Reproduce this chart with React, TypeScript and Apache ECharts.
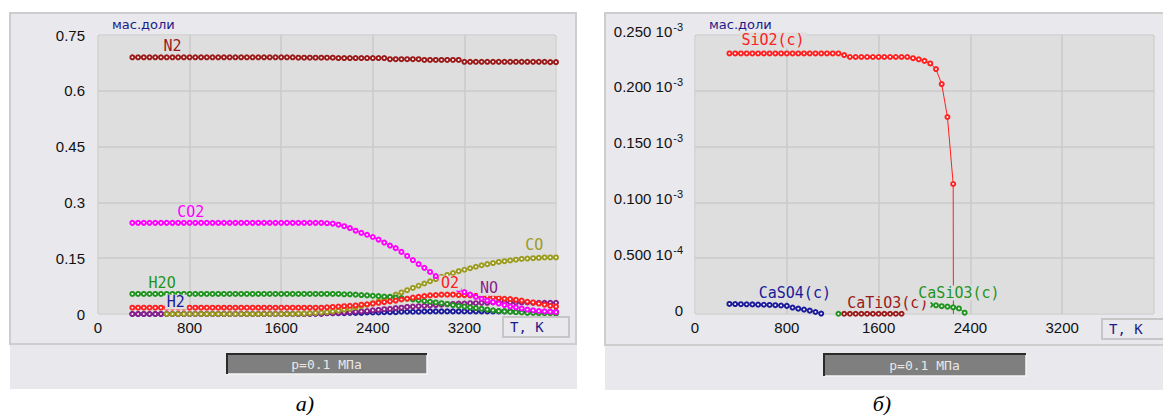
import React, { useEffect, useRef } from 'react';
import * as echarts from 'echarts';

// ---------- data: left chart (a), mass fractions vs T ----------
const temps = [
  300, 350, 400, 450, 500, 550, 600, 650, 700, 750,
  800, 850, 900, 950, 1000, 1050, 1100, 1150, 1200, 1250,
  1300, 1350, 1400, 1450, 1500, 1550, 1600, 1650, 1700, 1750,
  1800, 1850, 1900, 1950, 2000, 2050, 2100, 2150, 2200, 2250,
  2300, 2350, 2400, 2450, 2500, 2550, 2600, 2650, 2700, 2750,
  2800, 2850, 2900, 2950, 3000, 3050, 3100, 3150, 3200, 3250,
  3300, 3350, 3400, 3450, 3500, 3550, 3600, 3650, 3700, 3750,
  3800, 3850, 3900, 3950, 4000,
];

const n2 = [
  0.690, 0.690, 0.690, 0.690, 0.690, 0.690, 0.690, 0.690, 0.690, 0.690,
  0.690, 0.690, 0.690, 0.690, 0.690, 0.690, 0.690, 0.690, 0.690, 0.690,
  0.690, 0.690, 0.690, 0.690, 0.690, 0.690, 0.690, 0.690, 0.690, 0.689,
  0.689, 0.689, 0.689, 0.689, 0.689, 0.689, 0.688, 0.688, 0.688, 0.688,
  0.688, 0.688, 0.688, 0.688, 0.688, 0.685, 0.685, 0.685, 0.685, 0.685,
  0.685, 0.683, 0.683, 0.683, 0.683, 0.683, 0.683, 0.683, 0.678, 0.678,
  0.678, 0.678, 0.678, 0.678, 0.678, 0.678, 0.678, 0.678, 0.678, 0.678,
  0.678, 0.678, 0.678, 0.677, 0.677,
];

const co2 = [
  0.245, 0.245, 0.245, 0.245, 0.245, 0.245, 0.245, 0.245, 0.245, 0.245,
  0.245, 0.245, 0.245, 0.245, 0.245, 0.245, 0.245, 0.245, 0.245, 0.245,
  0.245, 0.245, 0.245, 0.245, 0.245, 0.245, 0.245, 0.245, 0.245, 0.245,
  0.245, 0.245, 0.245, 0.245, 0.244, 0.243, 0.240, 0.236, 0.231, 0.224,
  0.218, 0.213, 0.207, 0.200, 0.192, 0.184, 0.177, 0.167, 0.156, 0.145,
  0.134, 0.124, 0.113, 0.102, 0.093, 0.083, 0.075, 0.066, 0.059, 0.052,
  0.046, 0.041, 0.036, 0.032, 0.028, 0.024, 0.020, 0.018, 0.015, 0.012,
  0.010, 0.008, 0.007, 0.006, 0.005,
];

const h2o = [
  0.054, 0.054, 0.054, 0.054, 0.054, 0.054, 0.054, 0.054, 0.054, 0.054,
  0.054, 0.054, 0.054, 0.054, 0.054, 0.054, 0.054, 0.054, 0.054, 0.054,
  0.054, 0.054, 0.054, 0.054, 0.054, 0.054, 0.054, 0.054, 0.054, 0.054,
  0.054, 0.054, 0.054, 0.054, 0.054, 0.054, 0.054, 0.053, 0.053, 0.052,
  0.051, 0.050, 0.049, 0.048, 0.047, 0.046, 0.044, 0.043, 0.041, 0.039,
  0.037, 0.035, 0.033, 0.031, 0.029, 0.027, 0.024, 0.022, 0.020, 0.018,
  0.016, 0.014, 0.012, 0.010, 0.008, 0.007, 0.006, 0.005, 0.004, 0.003,
  0.003, 0.002, 0.002, 0.002, 0.001,
];

const h2 = [
  0.000, 0.000, 0.000, 0.000, 0.000, 0.000, 0.000, 0.000, 0.000, 0.000,
  0.000, 0.000, 0.000, 0.000, 0.000, 0.000, 0.000, 0.000, 0.000, 0.000,
  0.000, 0.000, 0.000, 0.000, 0.000, 0.000, 0.000, 0.000, 0.000, 0.000,
  0.000, 0.001, 0.001, 0.001, 0.002, 0.002, 0.002, 0.002, 0.003, 0.003,
  0.003, 0.004, 0.004, 0.004, 0.005, 0.005, 0.005, 0.006, 0.006, 0.006,
  0.006, 0.007, 0.007, 0.007, 0.007, 0.007, 0.007, 0.007, 0.007, 0.007,
  0.007, 0.007, 0.007, 0.007, 0.007, 0.007, 0.007, 0.006, 0.006, 0.006,
  0.006, 0.006, 0.006, 0.006, 0.006,
];

const no = [
  0.000, 0.000, 0.000, 0.000, 0.000, 0.000, 0.000, 0.000, 0.000, 0.000,
  0.000, 0.000, 0.000, 0.000, 0.000, 0.000, 0.000, 0.000, 0.000, 0.000,
  0.000, 0.000, 0.000, 0.000, 0.000, 0.000, 0.000, 0.000, 0.000, 0.000,
  0.000, 0.000, 0.001, 0.001, 0.002, 0.002, 0.003, 0.004, 0.005, 0.006,
  0.007, 0.008, 0.010, 0.011, 0.013, 0.014, 0.016, 0.017, 0.019, 0.020,
  0.021, 0.022, 0.023, 0.024, 0.025, 0.026, 0.027, 0.028, 0.028, 0.029,
  0.029, 0.030, 0.030, 0.031, 0.031, 0.031, 0.031, 0.031, 0.031, 0.031,
  0.030, 0.030, 0.030, 0.030, 0.030,
];

const co: (number | string)[] = [
  '-', '-', '-', '-', '-', '-', 0.000, 0.000, 0.000, 0.000,
  0.000, 0.000, 0.000, 0.000, 0.000, 0.000, 0.000, 0.000, 0.000, 0.000,
  0.000, 0.000, 0.000, 0.000, 0.000, 0.000, 0.000, 0.000, 0.000, 0.001,
  0.001, 0.002, 0.003, 0.004, 0.005, 0.007, 0.009, 0.012, 0.014, 0.018,
  0.021, 0.025, 0.029, 0.034, 0.040, 0.046, 0.052, 0.058, 0.064, 0.070,
  0.076, 0.082, 0.088, 0.094, 0.100, 0.105, 0.110, 0.115, 0.119, 0.123,
  0.127, 0.131, 0.134, 0.137, 0.140, 0.142, 0.144, 0.146, 0.148, 0.149,
  0.150, 0.151, 0.152, 0.152, 0.152,
];

const o2 = [
  0.017, 0.017, 0.017, 0.017, 0.017, 0.017, 0.017, 0.017, 0.017, 0.017,
  0.017, 0.017, 0.017, 0.017, 0.017, 0.017, 0.017, 0.017, 0.017, 0.017,
  0.017, 0.017, 0.017, 0.017, 0.017, 0.017, 0.017, 0.017, 0.017, 0.017,
  0.017, 0.017, 0.017, 0.017, 0.018, 0.019, 0.020, 0.021, 0.022, 0.023,
  0.025, 0.026, 0.028, 0.030, 0.032, 0.034, 0.036, 0.039, 0.041, 0.044,
  0.046, 0.048, 0.050, 0.051, 0.052, 0.052, 0.052, 0.051, 0.051, 0.050,
  0.049, 0.048, 0.047, 0.045, 0.043, 0.041, 0.040, 0.038, 0.036, 0.033,
  0.031, 0.028, 0.025, 0.022, 0.020,
];

// label anchors (T, value) for series names on the left chart
const leftNames = ['H2', 'NO', 'CO', 'H2O', 'O2', 'CO2', 'N2'];
const leftLabelT = [680, 3415, 3810, 560, 3075, 810, 650];
const leftLabelV = [0.032, 0.069, 0.185, 0.083, 0.083, 0.274, 0.72];

// ---------- data: right chart (б), condensed phases, units of 1e-3 ----------
const sio2T = [
  300, 350, 400, 450, 500, 550, 600, 650, 700, 750,
  800, 850, 900, 950, 1000, 1050, 1100, 1150, 1200, 1250,
  1300, 1350, 1400, 1450, 1500, 1550, 1600, 1650, 1700, 1750,
  1800, 1850, 1900, 1950, 2000, 2050, 2100, 2150, 2200, 2250,
  2252,
];
const sio2V = [
  0.2335, 0.2335, 0.2335, 0.2335, 0.2335, 0.2335, 0.2335, 0.2335, 0.2335, 0.2335,
  0.2335, 0.2335, 0.2335, 0.2335, 0.2335, 0.2335, 0.2335, 0.2335, 0.2335, 0.2335,
  0.2320, 0.2303, 0.2303, 0.2303, 0.2303, 0.2303, 0.2303, 0.2303, 0.2303, 0.2303,
  0.2303, 0.2303, 0.2292, 0.2282, 0.2268, 0.2245, 0.2195, 0.2060, 0.1765, 0.1165,
  0,
];

const caso4T = [300, 350, 400, 450, 500, 550, 600, 650, 700, 750, 800, 850, 900, 950, 1000, 1050, 1100];
const caso4V = [
  0.0090, 0.0089, 0.0088, 0.0087, 0.0086, 0.0084, 0.0083, 0.0081, 0.0079, 0.0076,
  0.0073, 0.0058, 0.0048, 0.0040, 0.0030, 0.0018, 0.0004,
];

const catio3T = [1300, 1350, 1400, 1450, 1500, 1550, 1600, 1650, 1700, 1750, 1800];
const catio3V = [0.0002, 0.0002, 0.0002, 0.0002, 0.0002, 0.0002, 0.0002, 0.0002, 0.0002, 0.0002, 0.0002];

const casio3T = [1250, 1700, 2050, 2100, 2150, 2200, 2250, 2300, 2350];
const casio3V: (number | string)[] = [0.0002, '-', 0.0082, 0.0078, 0.0070, 0.0066, 0.0060, 0.0050, 0.0012];

const rightNames = ['CaSO4(c)', 'CaTiO3(c)', 'CaSiO3(c)', 'SiO2(c)'];
const rightLabelT = [870, 1680, 2300, 680];
const rightLabelV = [0.0188, 0.0099, 0.0188, 0.2455];

// ---------- tick labels ----------
const xTickLabels = ['0', '800', '1600', '2400', '3200', ''];
const leftTickLabels = ['0', '0.15', '0.3', '0.45', '0.6', '0.75'];
const rightTickMantissa = ['0', '0.500', '0.100', '0.150', '0.200', '0.250'];
const rightTickExp = ['', '-4', '-3', '-3', '-3', '-3'];

const COLORS: Record<string, string> = {
  N2: '#9b1b1b',
  CO2: '#ff00ff',
  H2O: '#1f951f',
  H2: '#1a1a9b',
  CO: '#9b9b1f',
  O2: '#ff2020',
  NO: '#8b1f8b',
  'SiO2(c)': '#ff2020',
  'CaSO4(c)': '#1a1a9b',
  'CaTiO3(c)': '#9b1b1b',
  'CaSiO3(c)': '#1f951f',
};

const PANEL = '#e9e8ec';
const PLOT = '#dedede';
const LABEL_FONT = '"DejaVu Sans Mono", monospace';
const TICK_FONT = '"Liberation Sans", Arial, sans-serif';

function makeSeries(
  name: string,
  xs: number[],
  ys: (number | string)[],
  axis: number,
  labelT: number,
  labelV: number,
) {
  const color = COLORS[name];
  return {
    type: 'line',
    name,
    xAxisIndex: axis,
    yAxisIndex: axis,
    silent: true,
    clip: false,
    data: xs.map((t, i) =>
      ys[i] === 0 && name === 'SiO2(c)'
        ? { value: [t, 0], symbol: 'none' }
        : [t, ys[i]],
    ),
    symbol: 'emptyCircle',
    symbolSize: 4,
    showAllSymbol: true,
    connectNulls: false,
    lineStyle: { color, width: 1 },
    itemStyle: { color, borderColor: color, borderWidth: 1 },
    emphasis: { disabled: true },
    markPoint: {
      silent: true,
      symbol: 'circle',
      symbolSize: 1,
      itemStyle: { color: 'rgba(0,0,0,0)' },
      label: {
        show: true,
        position: 'inside',
        formatter: name,
        color,
        fontFamily: LABEL_FONT,
        fontSize: 15,
        backgroundColor: PLOT,
        padding: [0, 2],
      },
      data: [{ coord: [labelT, labelV] }],
    },
  };
}

const leftData: Record<string, (number | string)[]> = {
  H2: h2,
  NO: no,
  CO: co,
  H2O: h2o,
  O2: o2,
  CO2: co2,
  N2: n2,
};
const rightXs: Record<string, number[]> = {
  'CaSO4(c)': caso4T,
  'CaTiO3(c)': catio3T,
  'CaSiO3(c)': casio3T,
  'SiO2(c)': sio2T,
};
const rightYs: Record<string, (number | string)[]> = {
  'CaSO4(c)': caso4V,
  'CaTiO3(c)': catio3V,
  'CaSiO3(c)': casio3V,
  'SiO2(c)': sio2V,
};

function xAxisCfg(gridIndex: number) {
  return {
    type: 'value',
    gridIndex,
    min: 0,
    max: 4000,
    interval: 800,
    axisLine: { show: false },
    axisTick: { show: false },
    splitLine: { show: true, lineStyle: { color: '#cacaca', width: 1.5 } },
    axisLabel: {
      margin: 6,
      color: '#111',
      fontFamily: TICK_FONT,
      fontSize: 15,
      formatter: (v: number) => xTickLabels[Math.round(v / 800)],
    },
  };
}

function panel(x: number, y: number, w: number, h: number, lowerH: number) {
  return [
    {
      type: 'rect',
      z: -10,
      shape: { x, y: y + h, width: w + 1, height: lowerH },
      style: { fill: PANEL },
    },
    {
      type: 'rect',
      z: -9,
      shape: { x, y, width: w, height: h },
      style: { fill: PANEL, stroke: '#cdcdcd', lineWidth: 2 },
    },
  ];
}

function tkBox(x: number, y: number, w: number) {
  return [
    {
      type: 'rect',
      z: 10,
      shape: { x, y, width: w, height: 20 },
      style: { fill: PANEL, stroke: '#c6c6c6', lineWidth: 2 },
    },
    {
      type: 'text',
      z: 11,
      style: {
        text: 'T, K',
        x: x + 7,
        y: y + 10,
        fill: '#1a1a8a',
        fontFamily: LABEL_FONT,
        fontSize: 14,
        verticalAlign: 'middle',
        align: 'left',
      },
    },
  ];
}

function pBox(x: number, y: number, w: number, h: number) {
  return [
    {
      type: 'rect',
      z: 10,
      shape: { x, y, width: w, height: h },
      style: { fill: '#7f7f7f' },
    },
    {
      type: 'polyline',
      z: 11,
      shape: { points: [[x + 1, y + h], [x + w, y + h], [x + w, y + 1]] },
      style: { stroke: '#f4f4f4', lineWidth: 1.5, fill: null },
    },
    {
      type: 'polyline',
      z: 12,
      shape: { points: [[x + 1, y + h], [x + 1, y + 1], [x + w, y + 1]] },
      style: { stroke: '#2a2a2a', lineWidth: 2, fill: null },
    },
    {
      type: 'text',
      z: 13,
      style: {
        text: 'p=0.1 МПа',
        x: x + w / 2,
        y: y + h / 2 + 1,
        fill: '#e8e8e8',
        fontFamily: LABEL_FONT,
        fontSize: 13,
        align: 'center',
        verticalAlign: 'middle',
      },
    },
  ];
}

function caption(text: string, x: number) {
  return {
    type: 'text',
    z: 10,
    style: {
      text,
      x,
      y: 403,
      fill: '#000',
      fontFamily: '"Liberation Serif", "Times New Roman", serif',
      fontStyle: 'italic',
      fontSize: 22,
      align: 'center',
      verticalAlign: 'middle',
    },
  };
}

export default function App() {
  const ref = useRef<HTMLDivElement>(null);

  useEffect(() => {
    if (!ref.current) return;
    const chart = echarts.init(ref.current, undefined, { renderer: 'svg' });

    const series: any[] = [];
    leftNames.forEach((name, i) => {
      series.push(makeSeries(name, temps, leftData[name], 0, leftLabelT[i], leftLabelV[i]));
    });
    rightNames.forEach((name, i) => {
      series.push(makeSeries(name, rightXs[name], rightYs[name], 1, rightLabelT[i], rightLabelV[i]));
    });

    const axisName = {
      name: 'мас.доли',
      nameLocation: 'end',
      nameGap: 11,
      nameTextStyle: {
        color: '#1a1a8a',
        fontFamily: '"DejaVu Sans", sans-serif',
        fontSize: 13,
        align: 'left',
        verticalAlign: 'middle',
        padding: [0, 0, 0, 14],
      },
    };

    chart.setOption({
      animation: false,
      backgroundColor: '#ffffff',
      grid: [
        {
          left: 98, top: 35, width: 458, height: 279,
          show: true, backgroundColor: PLOT, borderColor: '#ffffff', borderWidth: 2,
        },
        {
          left: 695, top: 35, width: 459, height: 279,
          show: true, backgroundColor: PLOT, borderColor: '#ffffff', borderWidth: 2,
        },
      ],
      xAxis: [xAxisCfg(0), xAxisCfg(1)],
      yAxis: [
        {
          type: 'value',
          gridIndex: 0,
          min: 0,
          max: 0.75,
          interval: 0.15,
          ...axisName,
          axisLine: { show: false },
          axisTick: { show: false },
          splitLine: { show: true, lineStyle: { color: '#cacaca', width: 1.5 } },
          axisLabel: {
            margin: 13,
            color: '#111',
            fontFamily: TICK_FONT,
            fontSize: 15,
            padding: [0, 0, 8, 0],
            formatter: (v: number) => leftTickLabels[Math.round(v / 0.15)],
          },
        },
        {
          type: 'value',
          gridIndex: 1,
          min: 0,
          max: 0.25,
          interval: 0.05,
          ...axisName,
          axisLine: { show: false },
          axisTick: { show: false },
          splitLine: { show: true, lineStyle: { color: '#cacaca', width: 1.5 } },
          axisLabel: {
            margin: 12,
            padding: [0, 0, 8, 0],
            formatter: (v: number) => {
              const i = Math.round(v / 0.05);
              if (!rightTickExp[i]) return `{m|${rightTickMantissa[i]}}`;
              return `{m|${rightTickMantissa[i]} 10}{e|${rightTickExp[i]}}`;
            },
            rich: {
              m: { color: '#111', fontFamily: TICK_FONT, fontSize: 15 },
              e: { color: '#111', fontFamily: TICK_FONT, fontSize: 11, padding: [0, 0, 9, 1] },
            },
          },
        },
      ],
      graphic: [
        ...panel(10, 13, 566, 331, 45),
        ...panel(605, 13, 570, 332, 45),
        ...tkBox(503, 317, 66),
        ...tkBox(1102, 319, 70),
        ...pBox(226, 353, 201, 21),
        ...pBox(823, 353, 203, 23),
        caption('а)', 305),
        caption('б)', 882),
      ],
      series,
    });

    return () => chart.dispose();
  }, []);

  return (
    <div
      ref={ref}
      style={{ position: 'fixed', left: 0, top: 0, width: 1163, height: 415 }}
    />
  );
}
